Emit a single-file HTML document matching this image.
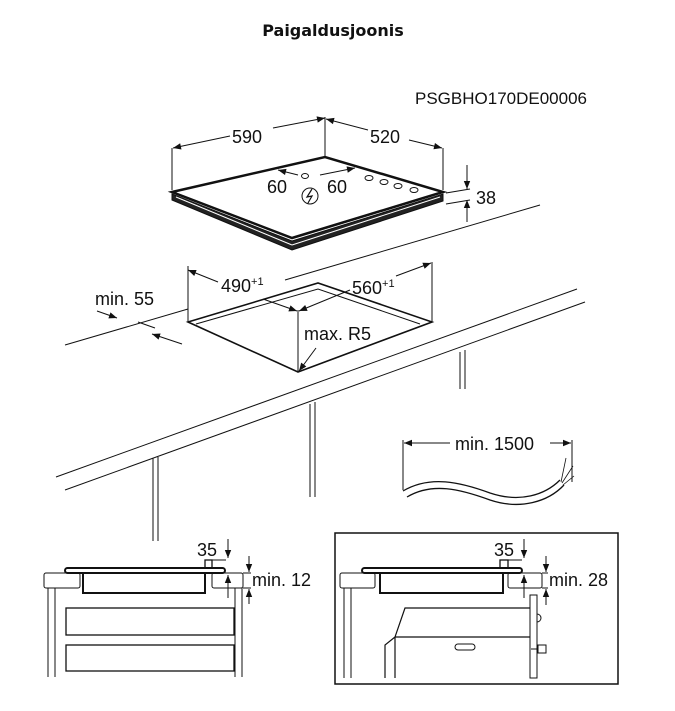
<!DOCTYPE html>
<html><head><meta charset="utf-8"><style>
body{margin:0;background:#fff;width:675px;height:711px;overflow:hidden}
svg{display:block}
text{font-family:"Liberation Sans",Arial,sans-serif;fill:#111}
</style></head><body>
<svg width="675" height="711" viewBox="0 0 675 711" xmlns="http://www.w3.org/2000/svg">
<defs>
<marker id="a" viewBox="0 0 10 10" refX="10" refY="5" markerWidth="9" markerHeight="8" orient="auto-start-reverse" markerUnits="userSpaceOnUse"><path d="M0,1 L10,5 L0,9 z" fill="#111"/></marker>
</defs>
<text x="333" y="36" font-size="16" font-weight="bold" text-anchor="middle" style="font-family:'DejaVu Sans',sans-serif">Paigaldusjoonis</text>
<text x="415" y="104" font-size="17">PSGBHO170DE00006</text>

<g stroke="#111" fill="none" stroke-width="1">
<path d="M172,192 L325,157 L443,192 L292,238 Z" stroke-width="2.5" fill="#fff"/>
<path d="M172,194 L172,200 L292,250 L443,201 L443,194 L292,241 Z" fill="#222"/>
<line x1="176" y1="197" x2="292" y2="245" stroke="#fff" stroke-width="1"/>
<line x1="292" y1="245" x2="440" y2="197" stroke="#fff" stroke-width="1"/>
<line x1="172" y1="190" x2="172" y2="148"/>
<line x1="325" y1="157" x2="325" y2="117"/>
<line x1="443" y1="190" x2="443" y2="148"/>
<line x1="230" y1="136" x2="173" y2="148" marker-end="url(#a)"/>
<line x1="273" y1="128" x2="325" y2="118" marker-end="url(#a)"/>
<line x1="368" y1="130" x2="326" y2="119" marker-end="url(#a)"/>
<line x1="409" y1="140" x2="442" y2="148" marker-end="url(#a)"/>
<line x1="298" y1="175" x2="278" y2="170" marker-end="url(#a)"/>
<line x1="320" y1="175" x2="355" y2="168" marker-end="url(#a)"/>
<ellipse cx="305" cy="176" rx="3.5" ry="2.5"/>
<circle cx="310" cy="196" r="8"/>
<path d="M312,189 L307,197 L312,196 L308,203" stroke-width="1.2"/>
<g stroke-width="1"><ellipse cx="369" cy="178" rx="4" ry="2.5"/><ellipse cx="384" cy="182" rx="4" ry="2.5"/><ellipse cx="398" cy="186" rx="4" ry="2.5"/><ellipse cx="414" cy="190" rx="4" ry="2.5"/></g>
<line x1="446" y1="193" x2="470" y2="189"/>
<line x1="446" y1="204" x2="470" y2="200"/>
<line x1="467" y1="165" x2="467" y2="189" marker-end="url(#a)"/>
<line x1="467" y1="222" x2="467" y2="200" marker-end="url(#a)"/>

<line x1="540" y1="205" x2="285" y2="280"/>
<line x1="188" y1="309" x2="65" y2="345"/>
<path d="M188,322 L318,283 L432,322 L298,372 Z" stroke-width="1.6"/>
<path d="M196,324 L318,289 L420,324"/>
<line x1="188" y1="322" x2="188" y2="266"/>
<line x1="432" y1="322" x2="432" y2="262"/>
<line x1="298" y1="372" x2="298" y2="310"/>
<line x1="218" y1="282" x2="188" y2="270" marker-end="url(#a)"/>
<line x1="263" y1="299" x2="297" y2="311" marker-end="url(#a)"/>
<line x1="350" y1="290" x2="299" y2="311" marker-end="url(#a)"/>
<line x1="396" y1="276" x2="431" y2="263" marker-end="url(#a)"/>
<line x1="316" y1="348" x2="299" y2="371" marker-end="url(#a)"/>
<line x1="97" y1="311" x2="117" y2="318" marker-end="url(#a)"/>
<line x1="155" y1="328" x2="138" y2="322"/>
<line x1="182" y1="344" x2="152" y2="334" marker-end="url(#a)"/>
<line x1="56" y1="477" x2="577" y2="289"/>
<line x1="65" y1="490" x2="585" y2="302"/>
<line x1="153" y1="458" x2="153" y2="541"/><line x1="158" y1="457" x2="158" y2="541"/>
<line x1="310" y1="404" x2="310" y2="497"/><line x1="315" y1="402" x2="315" y2="497"/>
<line x1="460" y1="352" x2="460" y2="389"/><line x1="465" y1="350" x2="465" y2="389"/>
<line x1="403" y1="440" x2="403" y2="490"/>
<line x1="572" y1="440" x2="572" y2="482"/>
<line x1="450" y1="443" x2="404" y2="443" marker-end="url(#a)"/>
<line x1="550" y1="443" x2="571" y2="443" marker-end="url(#a)"/>
<path d="M403,491 C430,475 460,482 490,493 C520,503 545,495 560,480" stroke-width="1.3"/>
<path d="M407,497 C432,482 460,489 490,500 C520,510 548,502 564,485" stroke-width="1.3"/>
<path d="M561,482 L566,458 M562,483 L573,466 M563,485 L574,476" stroke-width="0.8"/>

<rect x="44" y="573" width="36" height="15" rx="2"/>
<rect x="212" y="573" width="31" height="15" rx="2"/>
<rect x="65" y="568" width="160" height="5" rx="2.5" stroke-width="2"/>
<path d="M83,573 L83,593 L205,593 L205,573" stroke-width="2"/>
<rect x="205" y="560" width="7" height="8" stroke-width="1.3"/>
<line x1="48" y1="588" x2="48" y2="677"/><line x1="55" y1="588" x2="55" y2="677"/>
<line x1="235" y1="588" x2="235" y2="677"/><line x1="242" y1="588" x2="242" y2="677"/>
<rect x="66" y="608" width="168" height="27" stroke-width="1.3"/>
<rect x="66" y="645" width="168" height="26" stroke-width="1.3"/>
<path d="M212,560 L226,560"/>
<line x1="228" y1="539" x2="228" y2="558" marker-end="url(#a)"/>
<line x1="228" y1="598" x2="228" y2="575" marker-end="url(#a)"/>
<line x1="243" y1="573" x2="251" y2="573"/><line x1="243" y1="588" x2="251" y2="588"/>
<line x1="249" y1="556" x2="249" y2="572" marker-end="url(#a)"/>
<line x1="249" y1="604" x2="249" y2="589" marker-end="url(#a)"/>

<rect x="335" y="533" width="283" height="151" stroke-width="1.5"/>
<rect x="340" y="573" width="35" height="15" rx="2"/>
<rect x="508" y="573" width="34" height="15" rx="2"/>
<rect x="362" y="568" width="160" height="5" rx="2.5" stroke-width="2"/>
<path d="M380,573 L380,593 L503,593 L503,573" stroke-width="2"/>
<rect x="500" y="560" width="8" height="8" stroke-width="1.3"/>
<line x1="344" y1="588" x2="344" y2="678"/><line x1="351" y1="588" x2="351" y2="678"/>
<rect x="530" y="595" width="7" height="83"/>
<path d="M530,608 L405,608 L395,637 L530,637 M395,637 L395,678 M395,637 L385,645 L385,678" stroke-width="1.2"/>
<rect x="455" y="644" width="20" height="6" rx="3"/>
<path d="M537,614 A4,4 0 0 1 537,622"/>
<rect x="538" y="645" width="8" height="8"/>
<line x1="531" y1="649" x2="538" y2="649"/>
<path d="M508,560 L522,560"/>
<line x1="524" y1="539" x2="524" y2="558" marker-end="url(#a)"/>
<line x1="524" y1="598" x2="524" y2="575" marker-end="url(#a)"/>
<line x1="542" y1="573" x2="548" y2="573"/><line x1="542" y1="588" x2="548" y2="588"/>
<line x1="546" y1="556" x2="546" y2="572" marker-end="url(#a)"/>
<line x1="546" y1="605" x2="546" y2="589" marker-end="url(#a)"/>
</g>

<g font-size="18">
<text x="232" y="143">590</text>
<text x="370" y="143">520</text>
<text x="267" y="193">60</text>
<text x="327" y="193">60</text>
<text x="476" y="204">38</text>
<text x="95" y="305">min. 55</text>
<text x="221" y="292">490<tspan font-size="11" dy="-7">+1</tspan></text>
<text x="352" y="294">560<tspan font-size="11" dy="-7">+1</tspan></text>
<text x="304" y="340">max. R5</text>
<text x="455" y="450">min. 1500</text>
<text x="197" y="556">35</text>
<text x="252" y="586">min. 12</text>
<text x="494" y="556">35</text>
<text x="549" y="586">min. 28</text>
</g>
</svg>
</body></html>
